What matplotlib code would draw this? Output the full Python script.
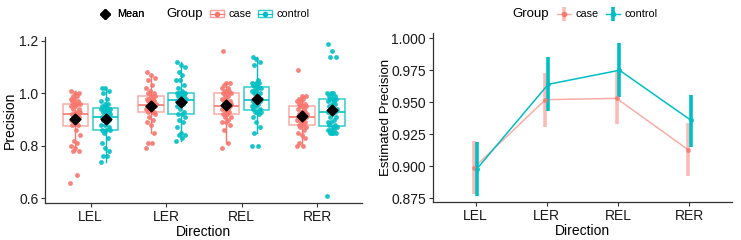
import numpy as np
import matplotlib.pyplot as plt
from matplotlib.lines import Line2D
from matplotlib.patches import Rectangle

plt.rcParams['font.family'] = ['Liberation Sans', 'DejaVu Sans']

directions = ['LEL', 'LER', 'REL', 'RER']
case_color = '#F8766D'
ctrl_color = '#00BFC4'

# raw precision values per direction (read from the jittered points)
case_LEL = [0.66, 0.69, 0.78, 0.78, 0.79, 0.80, 0.81, 0.82, 0.84, 0.86, 0.88, 0.88, 0.89, 0.90,
            0.90, 0.91, 0.91, 0.92, 0.92, 0.92, 0.92, 0.93, 0.93, 0.94, 0.94, 0.95, 0.95, 0.96,
            0.96, 0.96, 0.96, 0.97, 0.97, 0.98, 0.98, 0.99, 0.99, 1.00, 1.00, 1.01]
ctrl_LEL = [0.74, 0.76, 0.76, 0.78, 0.79, 0.81, 0.83, 0.85, 0.86, 0.86, 0.86, 0.87, 0.88, 0.88,
            0.89, 0.90, 0.90, 0.91, 0.91, 0.91, 0.91, 0.92, 0.92, 0.93, 0.93, 0.93, 0.94, 0.94,
            0.94, 0.94, 0.95, 0.95, 0.96, 0.96, 0.97, 0.98, 1.00, 1.01, 1.02, 1.02]
case_LER = [0.79, 0.81, 0.81, 0.85, 0.88, 0.89, 0.90, 0.91, 0.92, 0.93, 0.93, 0.93, 0.94, 0.94,
            0.94, 0.95, 0.95, 0.95, 0.95, 0.95, 0.96, 0.96, 0.96, 0.97, 0.97, 0.97, 0.98, 0.98,
            0.98, 0.99, 0.99, 1.00, 1.00, 1.01, 1.02, 1.03, 1.05, 1.06, 1.07, 1.08]
ctrl_LER = [0.82, 0.83, 0.84, 0.84, 0.85, 0.87, 0.89, 0.90, 0.91, 0.92, 0.92, 0.93, 0.94, 0.95,
            0.96, 0.96, 0.97, 0.97, 0.97, 0.97, 0.98, 0.98, 0.98, 0.99, 0.99, 0.99, 1.00, 1.00,
            1.00, 1.00, 1.01, 1.02, 1.03, 1.05, 1.05, 1.07, 1.08, 1.10, 1.11, 1.12]
case_REL = [0.79, 0.81, 0.86, 0.88, 0.89, 0.89, 0.90, 0.91, 0.91, 0.92, 0.92, 0.93, 0.93, 0.94,
            0.94, 0.94, 0.95, 0.95, 0.95, 0.95, 0.95, 0.96, 0.96, 0.97, 0.97, 0.98, 0.98, 0.99,
            0.99, 1.00, 1.00, 1.00, 1.01, 1.01, 1.02, 1.02, 1.03, 1.04, 1.04, 1.16]
ctrl_REL = [0.80, 0.80, 0.85, 0.87, 0.89, 0.91, 0.92, 0.93, 0.93, 0.93, 0.94, 0.94, 0.95, 0.95,
            0.96, 0.96, 0.97, 0.97, 0.97, 0.97, 0.98, 0.98, 0.99, 1.00, 1.00, 1.01, 1.01, 1.02,
            1.02, 1.02, 1.03, 1.03, 1.04, 1.04, 1.04, 1.05, 1.11, 1.12, 1.13, 1.14]
case_RER = [0.80, 0.80, 0.81, 0.83, 0.84, 0.85, 0.86, 0.87, 0.87, 0.88, 0.88, 0.89, 0.89, 0.90,
            0.90, 0.90, 0.91, 0.91, 0.91, 0.91, 0.91, 0.92, 0.92, 0.92, 0.93, 0.93, 0.94, 0.94,
            0.95, 0.95, 0.95, 0.96, 0.96, 0.97, 0.97, 0.98, 0.98, 0.99, 0.99, 1.09]
ctrl_RER = [0.61, 0.85, 0.85, 0.85, 0.85, 0.86, 0.86, 0.86, 0.87, 0.87, 0.88, 0.88, 0.89, 0.89,
            0.90, 0.91, 0.91, 0.92, 0.93, 0.93, 0.93, 0.94, 0.94, 0.95, 0.96, 0.96, 0.97, 0.97,
            0.98, 0.98, 0.98, 0.99, 0.99, 1.00, 1.00, 1.00, 1.14, 1.14, 1.16, 1.19]

case_raw = [case_LEL, case_LER, case_REL, case_RER]
ctrl_raw = [ctrl_LEL, ctrl_LER, ctrl_REL, ctrl_RER]

# model estimates (right panel)
case_est = [0.899, 0.952, 0.953, 0.913]
case_lo = [0.878, 0.931, 0.933, 0.892]
case_hi = [0.920, 0.973, 0.974, 0.934]
ctrl_est = [0.898, 0.964, 0.975, 0.936]
ctrl_lo = [0.877, 0.943, 0.954, 0.915]
ctrl_hi = [0.919, 0.985, 0.996, 0.956]

fig = plt.figure(figsize=(7.41, 2.40), dpi=100)
ax1 = fig.add_axes([0.061, 0.154, 0.428, 0.692])
ax2 = fig.add_axes([0.584, 0.158, 0.404, 0.704])

x = np.arange(1, 5)


def style(ax):
    for s in ['top', 'right']:
        ax.spines[s].set_visible(False)
    for s in ['left', 'bottom']:
        ax.spines[s].set_color('#333333')
        ax.spines[s].set_linewidth(0.9)
    ax.tick_params(colors='#333333', labelcolor='#1a1a1a', length=3, width=0.8,
                   labelsize=10, pad=2)


# ---- left panel: boxplots + jittered points
for vals, off, col, a in [(case_raw, -0.2, case_color, 0.6), (ctrl_raw, 0.2, ctrl_color, 0.8)]:
    pos = x + off
    ax1.boxplot(vals, positions=pos, widths=0.34, showfliers=False, whis=1.5,
                patch_artist=True,
                boxprops=dict(facecolor='white', edgecolor=col, linewidth=1.1, alpha=a),
                medianprops=dict(color=col, linewidth=1.3, alpha=0.9),
                whiskerprops=dict(color=col, linewidth=1.0),
                capprops=dict(linewidth=0))
    for p, v in zip(pos, vals):
        n = len(v)
        jit = ((np.arange(n) * 0.618) % 1 - 0.5) * 0.13
        ax1.scatter(p + jit, v, s=12, color=col, alpha=0.9, linewidths=0, zorder=3)
    ax1.scatter(pos, [np.mean(v) for v in vals], marker='D', s=30, color='black', zorder=4)

style(ax1)
ax1.set_xlim(0.4, 4.6)
ax1.set_ylim(0.582, 1.215)
ax1.set_xticks(x)
ax1.set_xticklabels(directions)
ax1.set_yticks([0.6, 0.8, 1.0, 1.2])
ax1.set_yticklabels(['0.6', '0.8', '1.0', '1.2'])
ax1.set_xlabel('Direction', fontsize=10, labelpad=1)
ax1.set_ylabel('Precision', fontsize=10)
ax1.yaxis.set_label_coords(-0.088, 0.5)

mean_h = Line2D([], [], marker='D', color='black', linestyle='none', markersize=5)
leg_a = fig.legend([mean_h], ['Mean'], loc='center left', bbox_to_anchor=(0.12, 0.94),
                   frameon=False, fontsize=7.8, handlelength=1.2, handletextpad=0.5)
fig.add_artist(leg_a)
fig.text(0.225, 0.94, 'Group', fontsize=9.5, va='center', ha='left')
case_h = (Rectangle((0, 0), 1, 1, facecolor='white', edgecolor=case_color, alpha=0.7),
          Line2D([], [], marker='o', color=case_color, markersize=3, linestyle='-', linewidth=0.8))
ctrl_h = (Rectangle((0, 0), 1, 1, facecolor='white', edgecolor=ctrl_color, alpha=0.8),
          Line2D([], [], marker='o', color=ctrl_color, markersize=3, linestyle='-', linewidth=0.8))
fig.legend([case_h, ctrl_h], ['case', 'control'], loc='center left',
           bbox_to_anchor=(0.27, 0.94), ncol=2, frameon=False, fontsize=7.8,
           handlelength=1.3, handletextpad=0.4, columnspacing=0.6)

# ---- right panel: estimates with intervals
dodge = 0.02
cx = x - dodge
tx = x + dodge
ax2.vlines(cx, case_lo, case_hi, color=case_color, linewidth=2.6, alpha=0.5)
ax2.plot(cx, case_est, color=case_color, linewidth=1.1, alpha=0.6)
ax2.scatter(cx, case_est, s=12, color=case_color, alpha=0.8, linewidths=0, zorder=3)
ax2.vlines(tx, ctrl_lo, ctrl_hi, color=ctrl_color, linewidth=2.6)
ax2.plot(tx, ctrl_est, color=ctrl_color, linewidth=1.1)
ax2.scatter(tx, ctrl_est, s=12, color=ctrl_color, linewidths=0, zorder=3)

style(ax2)
ax2.set_xlim(0.4, 4.6)
ax2.set_ylim(0.872, 1.004)
ax2.set_xticks(x)
ax2.set_xticklabels(directions)
ax2.set_yticks([0.875, 0.9, 0.925, 0.95, 0.975, 1.0])
ax2.set_yticklabels(['0.875', '0.900', '0.925', '0.950', '0.975', '1.000'])
ax2.set_xlabel('Direction', fontsize=10, labelpad=1)
ax2.set_ylabel('Estimated Precision', fontsize=9.5)
ax2.yaxis.set_label_coords(-0.137, 0.5)

fig.text(0.692, 0.94, 'Group', fontsize=9.5, va='center', ha='left')
case_e = (Line2D([], [], color=case_color, linewidth=1, alpha=0.6),
          Line2D([], [], marker='|', color=case_color, markersize=10, markeredgewidth=2.6,
                 linestyle='none', alpha=0.5),
          Line2D([], [], marker='o', color=case_color, markersize=3, linestyle='none'))
ctrl_e = (Line2D([], [], color=ctrl_color, linewidth=1),
          Line2D([], [], marker='|', color=ctrl_color, markersize=10, markeredgewidth=2.6,
                 linestyle='none'),
          Line2D([], [], marker='o', color=ctrl_color, markersize=3, linestyle='none'))
fig.legend([case_e, ctrl_e], ['case', 'control'], loc='center left',
           bbox_to_anchor=(0.738, 0.94), ncol=2, frameon=False, fontsize=7.8,
           handlelength=1.3, handletextpad=0.4, columnspacing=0.7)

fig.savefig('out.png', dpi=100)
